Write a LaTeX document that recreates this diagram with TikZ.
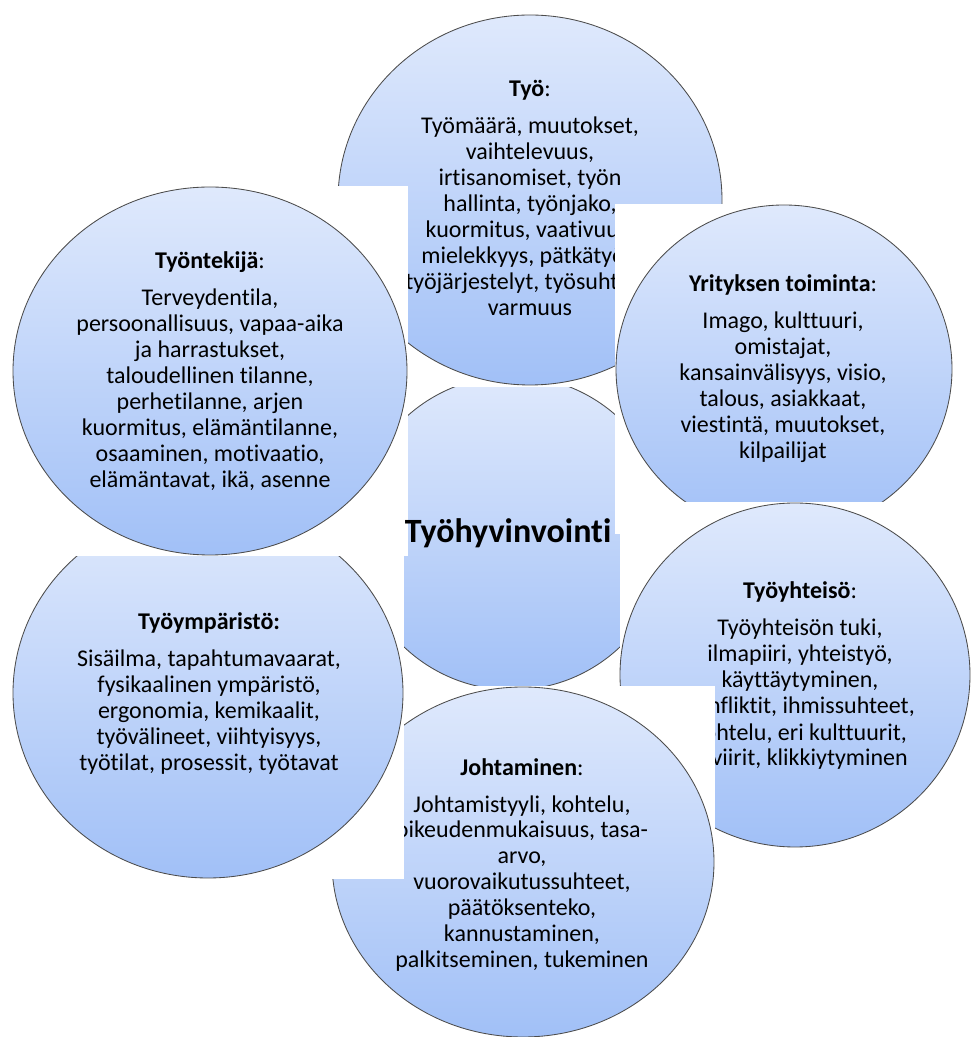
\documentclass[tikz,border=0pt]{standalone}
\usepackage{fontspec}
\setmainfont{Carlito}[Ligatures=NoCommon]
\usetikzlibrary{shapes.geometric}
\definecolor{bubtop}{RGB}{223,233,252}
\definecolor{bubbot}{RGB}{161,192,247}
\tikzset{
  bub/.style={ellipse, draw=black!70, line width=0.85pt, top color=bubtop, bottom color=bubbot, inner sep=0pt},
  coverbox/.style={fill=white, draw=none},
  txt/.style={font=\fontsize{24}{26}\selectfont, align=center, anchor=base, inner sep=0pt, text=black},
  txtr/.style={font=\fontsize{24}{26}\selectfont, anchor=base east, inner sep=0pt, text=black},
}
\begin{document}
\begin{tikzpicture}[x=1pt,y=1pt]
\useasboundingbox (0,0) rectangle (971,1037);
% centre circle (lowest layer)
\node[bub, minimum width=314pt, minimum height=314pt] (c) at (512,504) {};
% Tyo
\fill[coverbox] (336,650) rectangle (724,1024);
\node[bub, minimum width=384pt, minimum height=370pt] (tyo) at (530,837) {};
\node[txt] (tyot) at (530,721) {\textbf{Työ}:\\[11pt] Työmäärä, muutokset,\\ vaihtelevuus,\\ irtisanomiset, työn\\ hallinta, työnjako,\\ kuormitus, vaativuus,\\ mielekkyys, pätkätyöt,\\ työjärjestelyt, työsuhteen\\ varmuus};
% Yrityksen toiminta
\fill[coverbox] (615,503) rectangle (953,833);
\node[bub, minimum width=336pt, minimum height=328pt] (yri) at (784,668) {};
\node[txt] (yrit) at (783,578) {\textbf{Yrityksen toiminta}:\\[11pt] Imago, kulttuuri,\\ omistajat,\\ kansainvälisyys, visio,\\ talous, asiakkaat,\\ viestintä, muutokset,\\ kilpailijat};
% Tyoyhteiso
\fill[coverbox] (620,188) rectangle (971,535);
\node[bub, minimum width=350pt, minimum height=344pt] (yht) at (795,362) {};
\node[txt] (yhtt) at (800,349) {\textbf{Työyhteisö}:\\[11pt] Työyhteisön tuki,\\ ilmapiiri, yhteistyö,\\ käyttäytyminen,};
\node[txtr] (yhtt4) at (915,323) {konfliktit, ihmissuhteet,};
\node[txtr] (yhtt5) at (907,296) {kohtelu, eri kulttuurit,};
\node[txtr] (yhtt6) at (908,271) {viirit, klikkiytyminen};
% Johtaminen
\fill[coverbox] (331,0) rectangle (715,351);
\node[bub, minimum width=382pt, minimum height=350pt] (joh) at (523,175) {};
\node[txt] (joht) at (522,69) {\textbf{Johtaminen}:\\[11pt] Johtamistyyli, kohtelu,\\ oikeudenmukaisuus, tasa-\\ arvo,\\ vuorovaikutussuhteet,\\ päätöksenteko,\\ kannustaminen,\\ palkitseminen, tukeminen};
% Tyoymparisto
\fill[coverbox] (11,158) rectangle (404,531);
\node[bub, minimum width=390pt, minimum height=370pt] (ymp) at (208,344) {};
\node[txt] (ympt) at (209,266) {\textbf{Työympäristö:}\\[11pt] Sisäilma, tapahtumavaarat,\\ fysikaalinen ympäristö,\\ ergonomia, kemikaalit,\\ työvälineet, viihtyisyys,\\ työtilat, prosessit, työtavat};
% Tyontekija
\fill[coverbox] (11,481) rectangle (408,851);
\node[bub, minimum width=394pt, minimum height=368pt] (tek) at (210,666) {};
\node[txt] (tekt) at (210,549) {\textbf{Työntekijä}:\\[11pt] Terveydentila,\\ persoonallisuus, vapaa-aika\\ ja harrastukset,\\ taloudellinen tilanne,\\ perhetilanne, arjen\\ kuormitus, elämäntilanne,\\ osaaminen, motivaatio,\\ elämäntavat, ikä, asenne};
% centre label
\node[anchor=base, inner sep=0pt, font=\fontsize{34}{40}\selectfont\bfseries] (ct) at (508,494) {Työhyvinvointi};
\end{tikzpicture}
\end{document}
